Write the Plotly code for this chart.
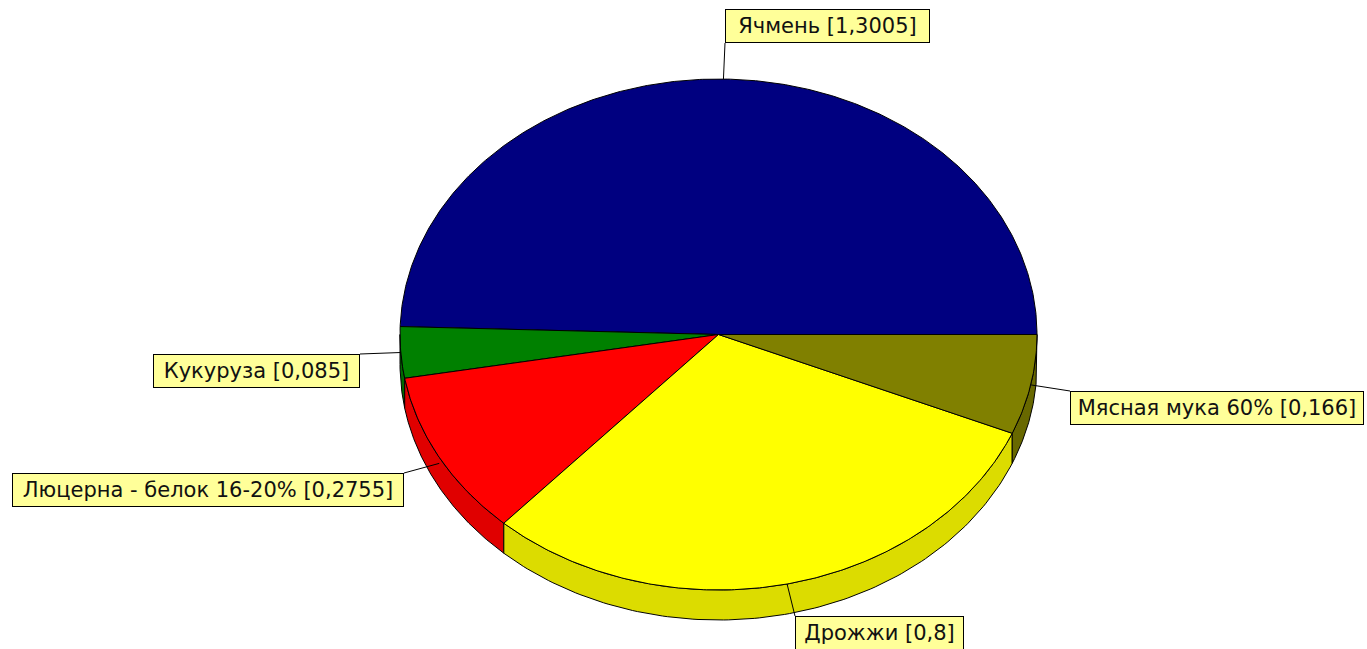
import numpy as np
import plotly.graph_objects as go

# ---- data ----
labels = ["Ячмень", "Кукуруза", "Люцерна - белок 16-20%", "Дрожжи", "Мясная мука 60%"]
values = [1.3005, 0.085, 0.2755, 0.8, 0.166]

# ---- styles ----
top_colors = ["#000080", "#008000", "#FF0000", "#FFFF00", "#808000"]
side_colors = ["#00006A", "#006A00", "#E00000", "#DCDC00", "#686800"]

# ---- layout (pixel geometry) ----
W, H = 1367, 649
cx, cy, rx, ry, depth = 718.5, 334.5, 318.5, 255.5, 30
box_left = [725, 153, 12, 795, 1070]
box_top = [9, 354, 473, 616, 391]
box_w = [205, 207, 392, 169, 294]
box_h = 34
# corner of the label box where the leader line attaches (dx, dy fractions)
attach = [(0, 1), (1, 0), (1, 0), (0, 0), (0, 0)]
# how far down the side wall the leader line meets the pie (fraction of depth)
wall_frac = [0, 0, 0.2, 0, 0.0]

vals = np.array(values, dtype=float)
frac = vals / vals.sum()
ends = np.cumsum(frac) * 2 * np.pi
starts = ends - frac * 2 * np.pi


def ex(t):
    return cx + rx * np.cos(t)


def ey(t):
    return cy - ry * np.sin(t)


fig = go.Figure()

# side walls (front half only)
for i in range(len(values)):
    lo = max(starts[i], np.pi)
    hi = min(ends[i], 2 * np.pi)
    if hi <= lo:
        continue
    t = np.linspace(lo, hi, 120)
    xs = np.concatenate([ex(t), ex(t[::-1]), [ex(t[0])]])
    ys = np.concatenate([ey(t), ey(t[::-1]) + depth, [ey(t[0])]])
    fig.add_trace(go.Scatter(x=xs, y=ys, mode="lines", fill="toself",
                             fillcolor=side_colors[i],
                             line=dict(color="black", width=1),
                             hoverinfo="skip", showlegend=False))

# top faces
for i in range(len(values)):
    n = max(8, int(np.degrees(ends[i] - starts[i]) * 2))
    t = np.linspace(starts[i], ends[i], n)
    xs = np.concatenate([[cx], ex(t), [cx]])
    ys = np.concatenate([[cy], ey(t), [cy]])
    fig.add_trace(go.Scatter(x=xs, y=ys, mode="lines", fill="toself",
                             fillcolor=top_colors[i],
                             line=dict(color="black", width=1),
                             hoverinfo="skip", showlegend=False))

# leader lines and labels
for i in range(len(values)):
    mid = (starts[i] + ends[i]) / 2
    px, py = ex(mid), ey(mid) + wall_frac[i] * depth
    bx = box_left[i] + attach[i][0] * box_w[i]
    by = box_top[i] + attach[i][1] * box_h
    fig.add_trace(go.Scatter(x=[px, bx], y=[py, by], mode="lines",
                             line=dict(color="black", width=1),
                             hoverinfo="skip", showlegend=False))
    txt = f"{labels[i]} [{str(values[i]).replace('.', ',')}]"
    fig.add_annotation(x=box_left[i], y=box_top[i], xref="x", yref="y",
                       xanchor="left", yanchor="top", showarrow=False,
                       text=txt, width=box_w[i] - 2, height=box_h - 2,
                       align="center", valign="middle",
                       bgcolor="#FFFF99", bordercolor="black", borderwidth=1,
                       borderpad=0,
                       font=dict(family="DejaVu Sans, Arial, sans-serif",
                                 size=21, color="#111111"))

fig.update_xaxes(range=[0, W], visible=False, fixedrange=True)
fig.update_yaxes(range=[H, 0], visible=False, fixedrange=True)
fig.update_layout(width=W, height=H, margin=dict(l=0, r=0, t=0, b=0),
                  paper_bgcolor="white", plot_bgcolor="white",
                  showlegend=False)

fig.write_html("out.html", config={"displayModeBar": False},
               post_script="document.body.style.margin='0';document.body.style.overflow='hidden';")
